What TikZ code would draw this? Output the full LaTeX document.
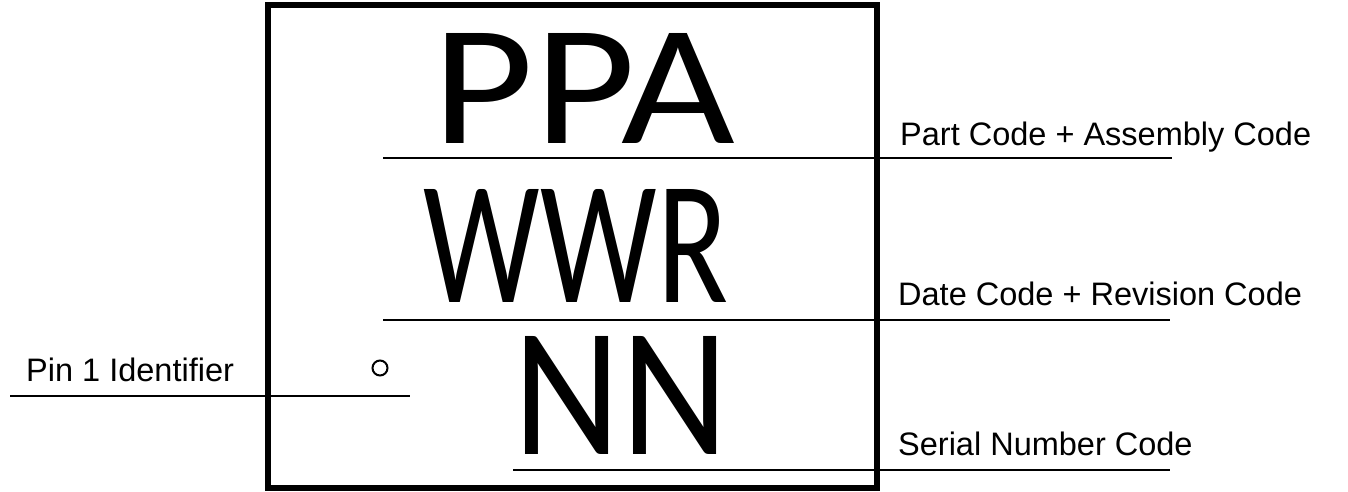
\documentclass[tikz,border=0pt]{standalone}
\usepackage{fontspec}
\setmainfont{Liberation Sans}
\newfontfamily\bigface{Carlito}
\usetikzlibrary{positioning}
\tikzset{
  chip/.style={draw=black,line width=6.5pt,minimum width=609pt,minimum height=483pt,inner sep=0pt},
  code/.style={inner sep=0pt,font=\bigface},
  lbl/.style={inner sep=0pt,anchor=base west,font=\fontsize{32.5pt}{34pt}\selectfont},
  leader/.style={line width=2.6pt},
  pinmark/.style={circle,draw=black,line width=2pt,minimum width=13pt,minimum height=15pt,inner sep=0pt},
}
\newcommand{\codeword}[3]{\resizebox{#1pt}{#2pt}{#3}}
\begin{document}
\begin{tikzpicture}[x=1pt,y=-1pt]
  \useasboundingbox (0,0) rectangle (1348,491);
  % package outline
  \node[chip] (pkg) at (572.5,246.5) {};
  % marking lines
  \node[code] (ppa) at (584,88)    {\codeword{302}{110}{PPA}};
  \node[code] (wwr) at (576,246)   {\codeword{304}{113}{WWR}};
  \node[code] (nn)  at (621,395.5) {\codeword{214}{118}{NN}};
  \node[pinmark] (pin) at (380,368) {};
  % leader lines
  \coordinate (a1) at (383,158);  \coordinate (a2) at (1172,158);
  \coordinate (b1) at (383,320);  \coordinate (b2) at (1170,320);
  \coordinate (c1) at (513,470);  \coordinate (c2) at (1170,470);
  \coordinate (d1) at (10,396);   \coordinate (d2) at (410,396);
  \draw[leader] (a1) -- (a2);
  \draw[leader] (b1) -- (b2);
  \draw[leader] (c1) -- (c2);
  \draw[leader] (d1) -- (d2);
  % labels
  \node[lbl] (partlbl) at (900,145) {Part Code + Assembly Code};
  \node[lbl] (datelbl) at (898,305) {Date Code + Revision Code};
  \node[lbl] (serlbl)  at (898,455) {Serial Number Code};
  \node[lbl] (pinlbl)  at (26,381)  {Pin 1 Identifier};
\end{tikzpicture}
\end{document}
